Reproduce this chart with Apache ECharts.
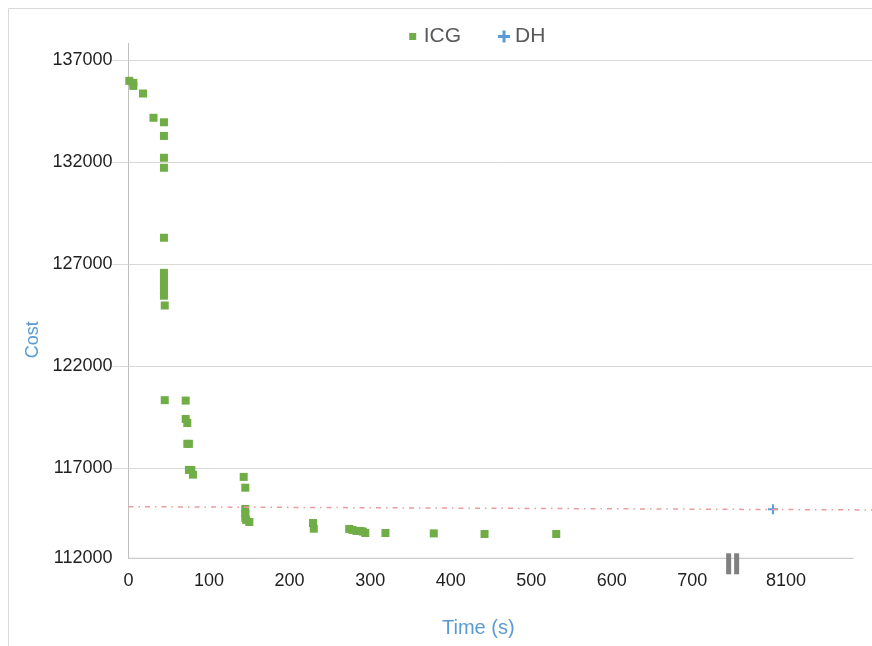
<!DOCTYPE html>
<html>
<head>
<meta charset="utf-8">
<script src="https://cdn.jsdelivr.net/npm/echarts@6/dist/echarts.min.js"></script>
<style>
html, body { margin: 0; padding: 0; background: #fff; }
#main { width: 872px; height: 646px; }
</style>
</head>
<body>
<div id="main"></div>
<script>
// ICG runs: time (s) and cost
var icgTime = [1, 6, 6, 18, 31, 44, 44, 44, 44, 44, 44, 44, 44, 44, 44, 44, 45, 45,
               71, 71, 73, 73, 75, 75, 78, 80, 143, 145, 145, 145, 145, 146, 150,
               229, 230, 274, 278, 283, 288, 291, 294, 319, 379, 442, 531];
var icgCost = [135990, 135890, 135740, 135370, 134180, 133960, 133290, 132220, 131730,
               128300, 126580, 126350, 126130, 125910, 125690, 125460, 124980, 120340,
               120320, 119420, 119220, 118200, 118200, 116920, 116920, 116690, 116580,
               116050, 115010, 114790, 114580, 114470, 114370,
               114320, 114040, 114030, 113980, 113930, 113930, 113900, 113830, 113830,
               113810, 113780, 113780];
// DH result, shown past the axis break
var dhTime = [8100];
var dhCost = [114990];
// dash-dot line at the DH level
var refTime = [0, 923];
var refCost = [115120, 114960];

var yTickLabels = [112000, 117000, 122000, 127000, 132000, 137000];
var xTickValues = [0, 100, 200, 300, 400, 500, 600, 700, 800];
var xTickLabels = ['0', '100', '200', '300', '400', '500', '600', '700', '8100'];

var yMin = 112590, yMax = 137830;
var xMax = 923, xEnd = 900;
var breakAt = 750;

// times after the break are drawn on the 800 slot
function axisPos(t) {
    return t > breakAt ? 800 + (t - 8100) : t;
}

var font = "'Liberation Sans', Arial, sans-serif";
var squareIcon = 'path://M0 0M12 12M2.5 2.5h7v7h-7z';
var crossIcon = 'path://M4.5 0h3v4.5h4.5v3h-4.5v4.5h-3v-4.5h-4.5v-3h4.5z';
var crossSymbol = 'path://M4 0h2v4h4v2h-4v4h-2v-4h-4v-2h4z';

var icgData = [];
for (var i = 0; i < icgTime.length; i++) {
    icgData.push([axisPos(icgTime[i]), icgCost[i]]);
}
var dhData = [];
for (var i = 0; i < dhTime.length; i++) {
    dhData.push([axisPos(dhTime[i]), dhCost[i]]);
}
var refData = [];
for (var i = 0; i < refTime.length; i++) {
    refData.push([refTime[i], refCost[i]]);
}

var yLabelValues = [yMin].concat(yTickLabels.slice(1));

var chart = echarts.init(document.getElementById('main'));
var option = {};
option['backgroundColor'] = '#fff';
option['animation'] = false;
option['textStyle'] = { fontFamily: font };

option['legend'] = {
    data: [
        { name: 'ICG', icon: squareIcon },
        { name: 'DH', icon: crossIcon }
    ],
    left: 406.7,
    top: 26,
    padding: 0,
    itemWidth: 12,
    itemHeight: 12,
    itemGap: 37,
    textStyle: { fontSize: 21, color: '#595959', fontFamily: font }
};

option['grid'] = {
    left: 128.5,
    right: 0,
    top: 43.3,
    bottom: 87.7,
    containLabel: false
};

option['xAxis'] = {
    type: 'value',
    min: 0,
    max: xMax,
    name: 'Time (s)',
    nameLocation: 'middle',
    nameGap: 60,
    nameTextStyle: { fontSize: 20, color: '#5B9BD5', fontFamily: font, padding: [0, 44, 0, 0] },
    axisLine: { show: false },
    axisTick: { show: false },
    splitLine: { show: false },
    axisLabel: {
        customValues: xTickValues,
        margin: 14,
        fontSize: 18,
        color: '#1f1f1f',
        fontFamily: font,
        formatter: function (v) {
            var k = xTickValues.indexOf(v);
            if (k < 0) return '';
            if (xTickValues[k] > breakAt) return '{b|' + xTickLabels[k] + '}';
            return xTickLabels[k];
        },
        rich: {
            b: { fontSize: 18, color: '#1f1f1f', fontFamily: font, padding: [0, 0, 0, 26] }
        }
    }
};

option['yAxis'] = {
    type: 'value',
    min: yMin,
    max: yMax,
    name: 'Cost',
    nameLocation: 'middle',
    nameGap: 86,
    nameTextStyle: { fontSize: 18, color: '#5B9BD5', fontFamily: font, padding: [0, 78, 0, 0] },
    axisLine: { show: true, lineStyle: { color: '#BFBFBF', width: 1 } },
    axisTick: {
        show: true,
        length: 16,
        customValues: yTickLabels.slice(1),
        lineStyle: { color: '#D9D9D9', width: 1 }
    },
    splitLine: { show: true, lineStyle: { color: '#D9D9D9', width: 1 } },
    axisLabel: {
        customValues: yLabelValues,
        margin: 16,
        fontSize: 18,
        color: '#1f1f1f',
        fontFamily: font,
        formatter: function (v) {
            return v <= yMin ? String(yTickLabels[0]) : String(v);
        }
    }
};

option['series'] = [
    {
        name: 'ICG',
        type: 'scatter',
        data: icgData,
        symbol: 'rect',
        symbolSize: 8,
        itemStyle: { color: '#70AD47', opacity: 1 },
        z: 3
    },
    {
        name: 'DH',
        type: 'scatter',
        data: dhData,
        symbol: crossSymbol,
        symbolSize: 10,
        itemStyle: { color: '#5B9BD5', opacity: 1 },
        z: 4
    },
    {
        name: 'ref',
        type: 'line',
        data: refData,
        symbol: 'none',
        silent: true,
        lineStyle: { color: '#EC9C9C', width: 1.5, type: [5, 5, 1.5, 5] },
        z: 5
    }
];

option && chart.setOption(option);

// x axis line ends at 900, break marker at the gap
var p0 = chart.convertToPixel({ gridIndex: 0 }, [0, yMin]);
var p1 = chart.convertToPixel({ gridIndex: 0 }, [xEnd, yMin]);
var pb = chart.convertToPixel({ gridIndex: 0 }, [breakAt, yMin]);
chart.setOption({
    graphic: [
        {
            type: 'rect',
            shape: { x: 8.5, y: 8.5, width: 900, height: 700 },
            style: { fill: 'none', stroke: '#D9D9D9', lineWidth: 1 },
            silent: true, z: -1
        },
        {
            type: 'line',
            shape: { x1: p0[0], y1: p0[1], x2: p1[0], y2: p1[1] },
            style: { stroke: '#BFBFBF', lineWidth: 1 },
            silent: true, z: 1
        },
        {
            type: 'rect',
            shape: { x: pb[0] - 6.5, y: pb[1] - 5, width: 5, height: 21 },
            style: { fill: '#808080' },
            silent: true, z: 10
        },
        {
            type: 'rect',
            shape: { x: pb[0] + 1.5, y: pb[1] - 5, width: 5, height: 21 },
            style: { fill: '#808080' },
            silent: true, z: 10
        }
    ]
});
</script>
</body>
</html>
